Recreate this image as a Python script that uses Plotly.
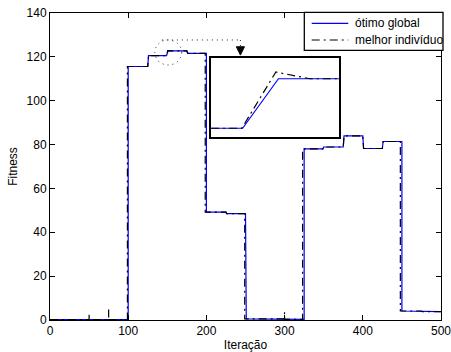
import plotly.graph_objects as go

# ---- data ----
blue_x = [0, 100, 100, 125, 126, 149, 151, 175, 176, 200, 200, 225, 226, 250, 251, 300, 301, 325, 325, 349, 350, 375, 376, 400, 401, 425, 426, 450, 450, 475, 476, 500]
blue_y = [0.2, 0.2, 115.6, 115.6, 120.6, 120.6, 122.7, 122.7, 121.6, 121.6, 49.2, 49.2, 48.5, 48.5, 0.5, 0.5, 0.3, 0.3, 78.0, 78.0, 78.9, 78.9, 84.0, 84.0, 78.2, 78.2, 81.4, 81.4, 4.1, 4.1, 3.8, 3.8]

black_x = [0, 50, 50, 50, 75, 75, 75, 99, 99, 125, 126, 149, 150.5, 175, 176, 198.5, 198.5, 225, 226, 249, 249, 299, 300, 300, 301, 323, 323, 349, 350, 375, 376, 400, 401, 425, 426, 448, 448, 475, 476, 500]
black_y = [0.2, 0.2, 2.8, 0.2, 0.2, 4.8, 0.2, 0.2, 115.6, 115.6, 120.6, 120.6, 122.8, 122.7, 121.6, 121.6, 49.2, 49.2, 48.5, 48.5, 0.5, 0.5, 3.5, 0.5, 0.3, 0.3, 78.0, 78.0, 78.9, 78.9, 84.0, 84.0, 78.2, 78.2, 81.4, 81.4, 4.1, 4.1, 3.8, 3.8]

# zoomed detail (inset)
inset_blue_x = [145, 148.7, 152.9, 160]
inset_blue_y = [120.5, 120.5, 122.7, 122.7]
inset_black_x = [145, 148.6, 152.6, 156.6, 160]
inset_black_y = [120.5, 120.5, 123.0, 122.7, 122.7]

x_ticks = [0, 100, 200, 300, 400, 500]
y_ticks = [0, 20, 40, 60, 80, 100, 120, 140]

names = ["ótimo global", "melhor indivíduo"]

BLUE = "#0000ff"
BLACK = "#000000"
DASH = "8px,4px,2px,4px"
FONT = "Liberation Sans, Arial, Helvetica, sans-serif"

fig = go.Figure()
fig.add_trace(go.Scatter(x=blue_x, y=blue_y, mode="lines", name=names[0], showlegend=False,
                         line=dict(color=BLUE, width=1.2)))
fig.add_trace(go.Scatter(x=black_x, y=black_y, mode="lines", name=names[1], showlegend=False,
                         line=dict(color=BLACK, width=1.2, dash=DASH)))
fig.add_trace(go.Scatter(x=inset_blue_x, y=inset_blue_y, mode="lines", showlegend=False,
                         xaxis="x2", yaxis="y2", line=dict(color=BLUE, width=1.2)))
fig.add_trace(go.Scatter(x=inset_black_x, y=inset_black_y, mode="lines", showlegend=False,
                         xaxis="x2", yaxis="y2", line=dict(color=BLACK, width=1.2, dash=DASH)))

axis_common = dict(showline=True, linecolor="black", linewidth=1, mirror="allticks",
                   ticks="inside", ticklen=5, tickcolor="black", showgrid=False,
                   zeroline=False, tickfont=dict(size=12, color="black"), automargin=False,
                   ticklabeloverflow="allow")

fig.update_layout(
    width=451, height=352,
    margin=dict(l=50, r=10, t=13, b=32, autoexpand=False),
    paper_bgcolor="white", plot_bgcolor="white",
    font=dict(family=FONT, size=12, color="black"),
    xaxis=dict(range=[0, 500], tickvals=x_ticks, domain=[0, 1],
               title=dict(text="Iteração", standoff=3, font=dict(size=12)), **axis_common),
    yaxis=dict(range=[0, 140], tickvals=y_ticks, domain=[0, 1],
               title=dict(text="Fitness", standoff=6, font=dict(size=12)), **axis_common),
    xaxis2=dict(domain=[0.412, 0.739], range=[145, 160], anchor="y2",
                showline=True, linecolor="black", linewidth=1.6, mirror=True,
                showticklabels=False, ticks="", showgrid=False, zeroline=False),
    yaxis2=dict(domain=[0.596, 0.854], range=[120.11, 123.63], anchor="x2",
                showline=True, linecolor="black", linewidth=1.6, mirror=True,
                showticklabels=False, ticks="", showgrid=False, zeroline=False),
    showlegend=False,
)

# dotted ellipse, connector and arrow head
DOT = dict(color="#222222", width=1, dash="1px,4px")
fig.add_shape(type="circle", xref="x", yref="y", x0=134, x1=168.4, y0=116.3, y1=127.7, line=DOT)
fig.add_shape(type="line", xref="x", yref="y", x0=143, x1=243.5, y0=127.7, y1=127.7, line=DOT)
fig.add_shape(type="line", xref="x", yref="y", x0=243.5, x1=243.5, y0=127.7, y1=124.5, line=DOT)
fig.add_shape(type="path", xref="x", yref="y",
              path="M 238.3,124.6 L 248.7,124.6 L 243.5,120.8 Z",
              fillcolor="black", line=dict(color="black", width=1))

# legend box (MATLAB style)
fig.add_shape(type="rect", xref="paper", yref="paper", x0=0.6504, x1=1.0051, y0=0.8785, y1=1.0023,
              fillcolor="white", line=dict(color="black", width=1.3))
legend_rows = [(0.9664, BLUE, "solid"), (0.912, BLACK, DASH)]
for name, (yy, col, dsh) in zip(names, legend_rows):
    fig.add_shape(type="line", xref="paper", yref="paper", x0=0.6693, x1=0.7629, y0=yy, y1=yy,
                  line=dict(color=col, width=1.2, dash=dsh))
    fig.add_annotation(x=0.7742, y=yy, xref="paper", yref="paper", text=name, showarrow=False,
                       xanchor="left", yanchor="middle", font=dict(size=12, color="black"))

fig.write_html("out.html")
